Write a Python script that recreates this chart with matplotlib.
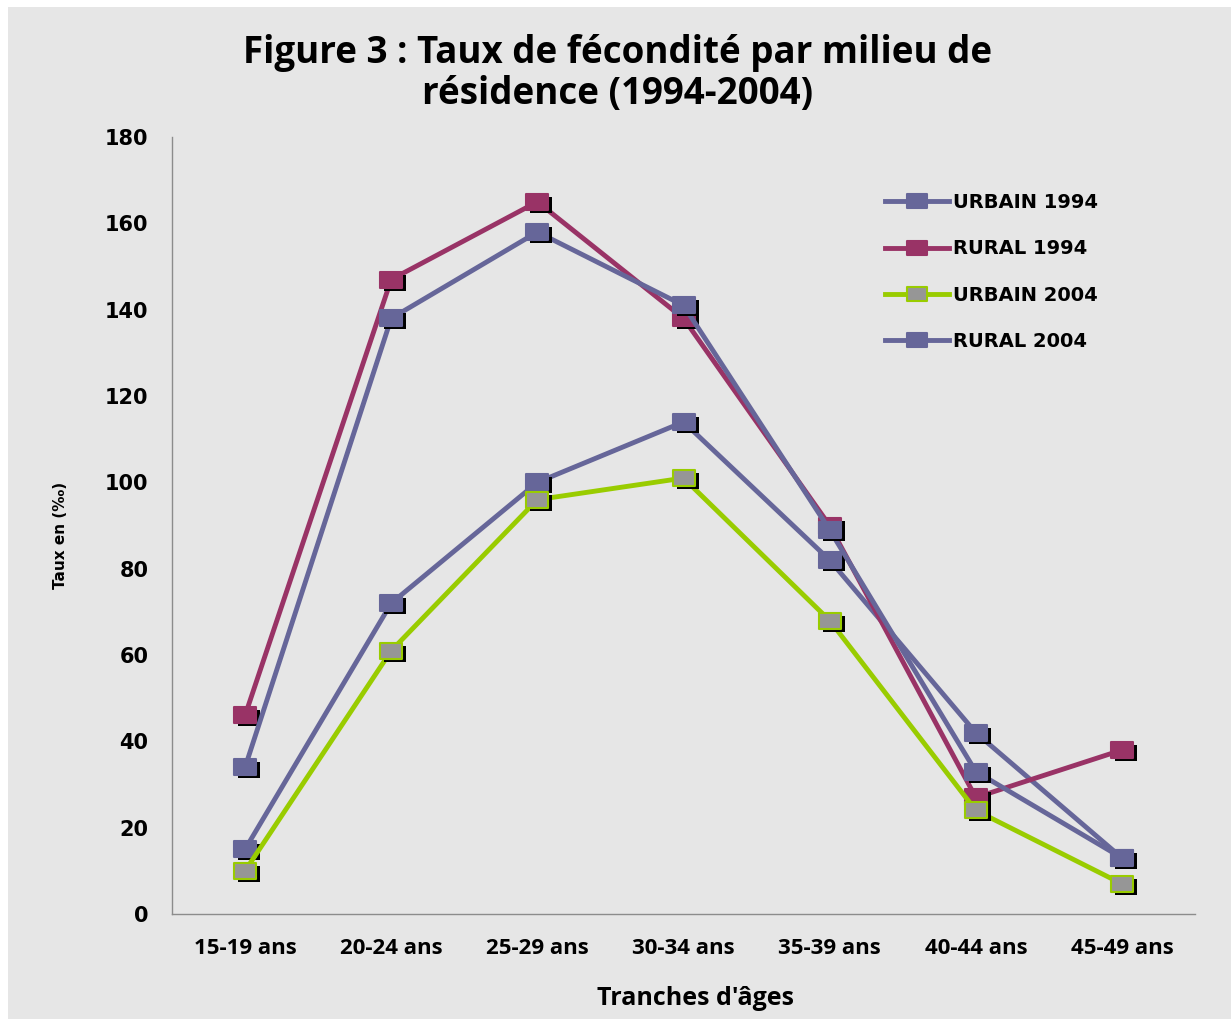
import matplotlib
matplotlib.use('Agg')
import matplotlib.pyplot as plt
import matplotlib.transforms as mtransforms
from matplotlib.path import Path
from matplotlib.patches import Rectangle

ages = ['15-19 ans', '20-24 ans', '25-29 ans', '30-34 ans', '35-39 ans', '40-44 ans', '45-49 ans']
urbain_1994 = [15, 72, 100, 114, 82, 42, 13]
rural_1994 = [46, 147, 165, 138, 90, 27, 38]
urbain_2004 = [10, 61, 96, 101, 68, 24, 7]
rural_2004 = [34, 138, 158, 141, 89, 33, 13]

bleu = '#666699'
rouge = '#993366'
vert = '#99CC00'
gris = '#969696'

# wide rectangle marker, like the stretched excel squares
rect = Path([(-1.45, -1), (1.45, -1), (1.45, 1), (-1.45, 1), (-1.45, -1)],
            [Path.MOVETO, Path.LINETO, Path.LINETO, Path.LINETO, Path.CLOSEPOLY])

fig = plt.figure(figsize=(12.31, 10.19), dpi=100)
fig.patch.set_facecolor('white')
fig.patches.append(Rectangle((8 / 1231, 0), 1, 1 - 7 / 1019, transform=fig.transFigure,
                             facecolor='#E6E6E6', edgecolor='none', zorder=-10))

ax = fig.add_axes([0.1397, 0.1030, 0.8311, 0.7625])
ax.set_facecolor('none')
ax.set_zorder(1)

x = list(range(len(ages)))
shadow = ax.transData + mtransforms.ScaledTranslation(4 / 100, -3 / 100, fig.dpi_scale_trans)

series = [
    ('URBAIN 1994', urbain_1994, bleu, bleu, bleu),
    ('RURAL 1994', rural_1994, rouge, rouge, rouge),
    ('URBAIN 2004', urbain_2004, vert, gris, vert),
    ('RURAL 2004', rural_2004, bleu, bleu, bleu),
]

handles = []
for i, (nom, vals, col, fill, edge) in enumerate(series):
    z = 3 + i * 3
    ax.plot(x, vals, color=col, lw=3.5, solid_capstyle='round', zorder=z)
    ax.plot(x, vals, ls='none', marker=rect, ms=16, color='black', mew=0,
            transform=shadow, zorder=z + 1)
    ax.plot(x, vals, ls='none', marker=rect, ms=16, markerfacecolor=fill,
            markeredgecolor=edge, mew=1.5, zorder=z + 2)
    lh, = ax.plot([], [], color=col, lw=3.5, marker=rect, ms=14,
                  markerfacecolor=fill, markeredgecolor=edge, mew=1.5, label=nom)
    handles.append(lh)

ax.set_xlim(-0.5, 6.5)
ax.set_ylim(0, 180)
ax.set_yticks(range(0, 181, 20))
ax.set_xticks(x)
ax.set_xticklabels(ages, fontfamily='Open Sans', fontweight='bold', fontsize=16)
for t in ax.get_yticklabels():
    t.set_fontfamily('DejaVu Sans')
    t.set_fontweight('bold')
    t.set_fontsize(15)
ax.tick_params(axis='both', length=0)
ax.tick_params(axis='y', pad=17)
ax.tick_params(axis='x', pad=17)

for s in ['top', 'right']:
    ax.spines[s].set_visible(False)
for s in ['left', 'bottom']:
    ax.spines[s].set_color('#8C8C8C')
    ax.spines[s].set_linewidth(1)

leg = fig.legend(handles=handles, loc='upper left', bbox_to_anchor=(0.711, 0.820),
                 frameon=False, handlelength=3.3, handletextpad=0.2,
                 labelspacing=1.4, borderpad=0,
                 prop={'family': 'DejaVu Sans', 'weight': 'bold', 'size': 14})

fig.text(0.502, 0.928, "Figure 3 : Taux de fécondité par milieu de\nrésidence (1994-2004)",
         ha='center', va='center', fontfamily='Open Sans', fontweight='bold',
         fontsize=26.5, linespacing=1.12)
fig.text(0.565, 0.020, "Tranches d'âges", ha='center', va='center',
         fontfamily='Open Sans', fontweight='bold', fontsize=18)
fig.text(0.049, 0.475, 'Taux en (‰)', ha='center', va='center', rotation=90,
         fontfamily='DejaVu Sans', fontweight='bold', fontsize=11)

fig.savefig('out.png', dpi=100)
